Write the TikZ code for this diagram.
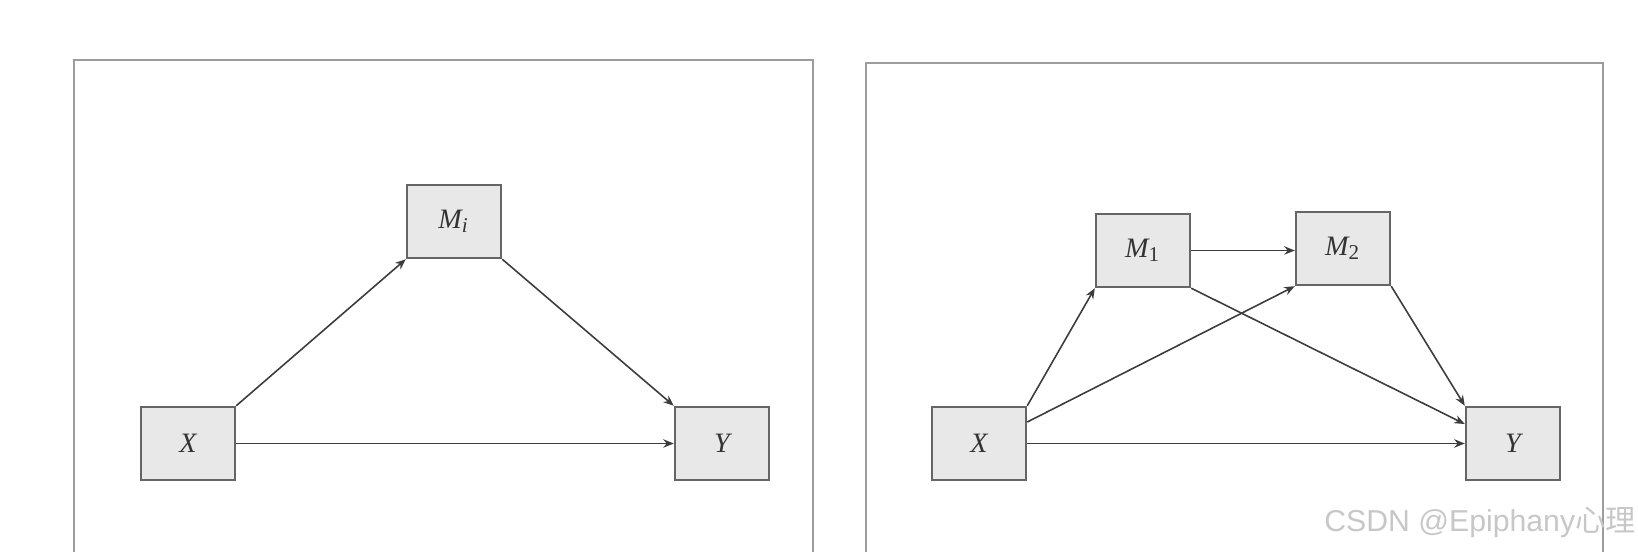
\documentclass[tikz,border=0pt]{standalone}
\usepackage{fontspec}
\setmainfont{Liberation Serif}
\newfontfamily\wmfont{Liberation Sans}
\newfontfamily\cjk{Noto Sans CJK SC}
\usetikzlibrary{arrows.meta}
\definecolor{boxfill}{HTML}{E8E8E8}
\definecolor{boxline}{HTML}{656565}
\definecolor{arrline}{HTML}{3C3C3C}
\definecolor{frameline}{HTML}{9C9C9C}
\tikzset{
  varbox/.style={draw=boxline, line width=0.7pt, fill=boxfill, minimum width=0.94cm,
    minimum height=0.73cm, inner sep=0pt, font=\footnotesize\itshape, text=black!80},
  path/.style={draw=arrline, line width=0.45pt, -{Stealth[length=3pt,width=2.4pt]}},
  panel/.style={draw=frameline, line width=0.6pt}
}
\begin{document}
\begin{tikzpicture}
  \useasboundingbox (0,0) rectangle (16.38,5.52);
  % panels
  \draw[panel] (0.74,0) |- (8.13,4.92) -- (8.13,0);
  \draw[panel] (8.66,0) |- (16.03,4.89) -- (16.03,0);
  % simple mediation
  \node[varbox] (mi) at (4.54,3.305) {M\textsubscript{i}};
  \node[varbox] (xl) at (1.88,1.085) {X};
  \node[varbox] (yl) at (7.22,1.085) {Y};
  \draw[path] (xl.north east) -- (mi.south west);
  \draw[path] (mi.south east) -- (yl.north west);
  \draw[path] (xl.east) -- (yl.west);
  % serial mediation
  \node[varbox] (m1) at (11.43,3.015) {M\textsubscript{\upshape 1}};
  \node[varbox] (m2) at (13.43,3.035) {M\textsubscript{\upshape 2}};
  \node[varbox] (xr) at (9.79,1.085) {X};
  \node[varbox] (yr) at (15.13,1.085) {Y};
  \draw[path] (xr.north east) -- (m1.south west);
  \draw[path] (xr.24) -- (m2.south west);
  \draw[path] (xr.east) -- (yr.west);
  \draw[path] (m1.east) -- (m1.east -| m2.west);
  \draw[path] (m1.south east) -- (yr.158);
  \draw[path] (m2.south east) -- (yr.north west);
  % watermark
  \node[text=black!22, font=\wmfont\fontsize{8.6}{10}\selectfont, inner sep=0pt] (wm)
    at (14.80,0.30) {CSDN @Epiphany{\cjk 心理}};
\end{tikzpicture}
\end{document}
